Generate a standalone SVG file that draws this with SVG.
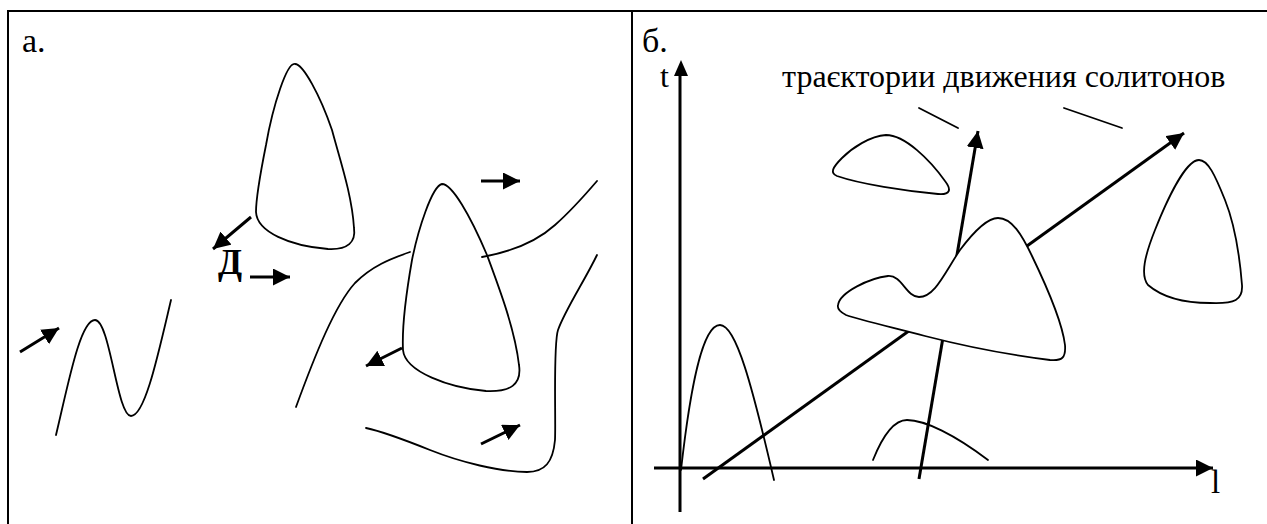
<svg xmlns="http://www.w3.org/2000/svg" width="1267" height="524" viewBox="0 0 1267 524">
<style>
.frame{stroke:#000;stroke-width:2;fill:none}
.thin{stroke:#000;stroke-width:1.8;fill:none;stroke-linecap:round;stroke-linejoin:round}
.blob{stroke:#000;stroke-width:1.8;fill:#fff;stroke-linejoin:round}
.arr{stroke:#000;stroke-width:3;fill:none;marker-end:url(#ah)}
.axis{stroke:#000;stroke-width:3;fill:none}
.lbl{font-family:"Liberation Serif","Times New Roman",serif;fill:#000}
</style>
<defs>
<marker id="ah" markerUnits="userSpaceOnUse" markerWidth="18" markerHeight="18" refX="17" refY="8.5" orient="auto">
<path d="M0,0 L17,8.5 L0,17 Z" fill="#000"/>
</marker>
</defs>
<rect width="1267" height="524" fill="#fff"/>
<g id="frame">
<line class="frame" x1="8" y1="11" x2="1267" y2="11"/>
<line class="frame" x1="8" y1="10" x2="8" y2="524"/>
<line class="frame" x1="632" y1="11" x2="632" y2="524"/>
</g>
<g id="panel-a-label"><text class="lbl" x="22" y="52" font-size="34">а.</text></g>
<g id="panel-b-label"><text class="lbl" x="642" y="52" font-size="34">б.</text></g>
<g id="connectors">
<line class="arr" x1="251" y1="217" x2="213" y2="249"/>
<line class="arr" x1="250" y1="277" x2="290" y2="277"/>
<line class="arr" x1="481" y1="181" x2="520" y2="181"/>
<line class="arr" x1="20" y1="352" x2="59" y2="328"/>
<line class="arr" x1="402" y1="348" x2="366" y2="366"/>
<line class="arr" x1="481" y1="444" x2="520" y2="425"/>
<line class="axis" x1="680" y1="512" x2="680" y2="74"/>
<path d="M674,76 L681,60 L688,76 Z" fill="#000"/>
<line class="arr" x1="654" y1="468" x2="1213" y2="468"/>
<line class="arr" x1="919" y1="479" x2="978" y2="131"/>
<line class="arr" x1="703" y1="479" x2="1184" y2="133"/>
<line class="thin" x1="919" y1="108" x2="958" y2="128"/>
<line class="thin" x1="1064" y1="108" x2="1122" y2="128"/>
</g>
<g id="blob-a1"><path class="blob" d="M295,64 C287,62 273,105 266,145 C260,175 256,200 256,212 C257,232 290,246 328,249 C348,250 356,242 354,228 C352,195 340,160 332,130 C320,95 303,64 295,64 Z"/></g>
<g id="blob-a2"><path class="blob" d="M442,184 C432,186 418,230 412,260 C405,300 402,330 403,350 C405,372 450,388 486,391 C510,392 522,385 519,365 C515,330 500,290 487,255 C470,215 452,184 442,184 Z"/></g>
<g id="wave-a"><path class="thin" d="M56,435 C68,385 80,320 95,320 C110,320 117,416 131,416 C145,416 158,355 171,300"/></g>
<g id="curve-a1"><path class="thin" d="M296,407 C315,355 335,305 355,283 C372,266 390,259 410,252"/>
<path class="thin" d="M482,257 C510,252 535,243 555,225 C572,210 585,195 597,181"/></g>
<g id="curve-a2"><path class="thin" d="M597,255 C585,280 565,310 558,330 C553,345 556,420 555,440 C553,462 545,472 527,472 C500,472 460,462 430,450 C410,442 385,432 366,428"/></g>
<g id="label-d"><text class="lbl" x="218" y="274" font-size="35" font-weight="bold">Д</text></g>
<g id="axis-labels">
<text class="lbl" x="660" y="87" font-size="32">t</text>
<text class="lbl" x="1211" y="493" font-size="33">l</text>
</g>
<g id="title"><text class="lbl" x="782" y="87" font-size="32">траєктории движения солитонов</text></g>
<g id="blob-b1"><path class="blob" d="M886,135 C870,136 852,148 842,158 C832,168 830,173 837,176 C860,184 905,191 938,194 C950,195 952,190 945,181 C930,160 905,135 886,135 Z"/></g>
<g id="blob-b2"><path class="blob" d="M838,305 C840,292 870,278 888,276 C902,275 906,297 919,297 C935,297 945,272 960,250 C975,230 988,218 998,218 C1012,218 1022,235 1032,256 C1046,285 1062,320 1065,345 C1066,358 1062,361 1050,360 C1010,355 960,345 925,336 C895,328 860,320 846,315 C840,312 837,309 838,305 Z"/></g>
<g id="blob-b3"><path class="blob" d="M1199,160 C1185,160 1165,205 1155,230 C1145,255 1140,275 1148,285 C1162,297 1185,303 1210,303 C1235,304 1243,300 1242,285 C1240,260 1235,225 1225,200 C1215,175 1208,160 1199,160 Z"/></g>
<g id="bell-b"><path class="thin" d="M681,470 C690,390 702,325 720,325 C736,325 752,385 774,480"/></g>
<g id="bump-b"><path class="thin" d="M873,460 C881,440 893,420 907,420 C925,420 955,435 988,460"/></g>
</svg>
